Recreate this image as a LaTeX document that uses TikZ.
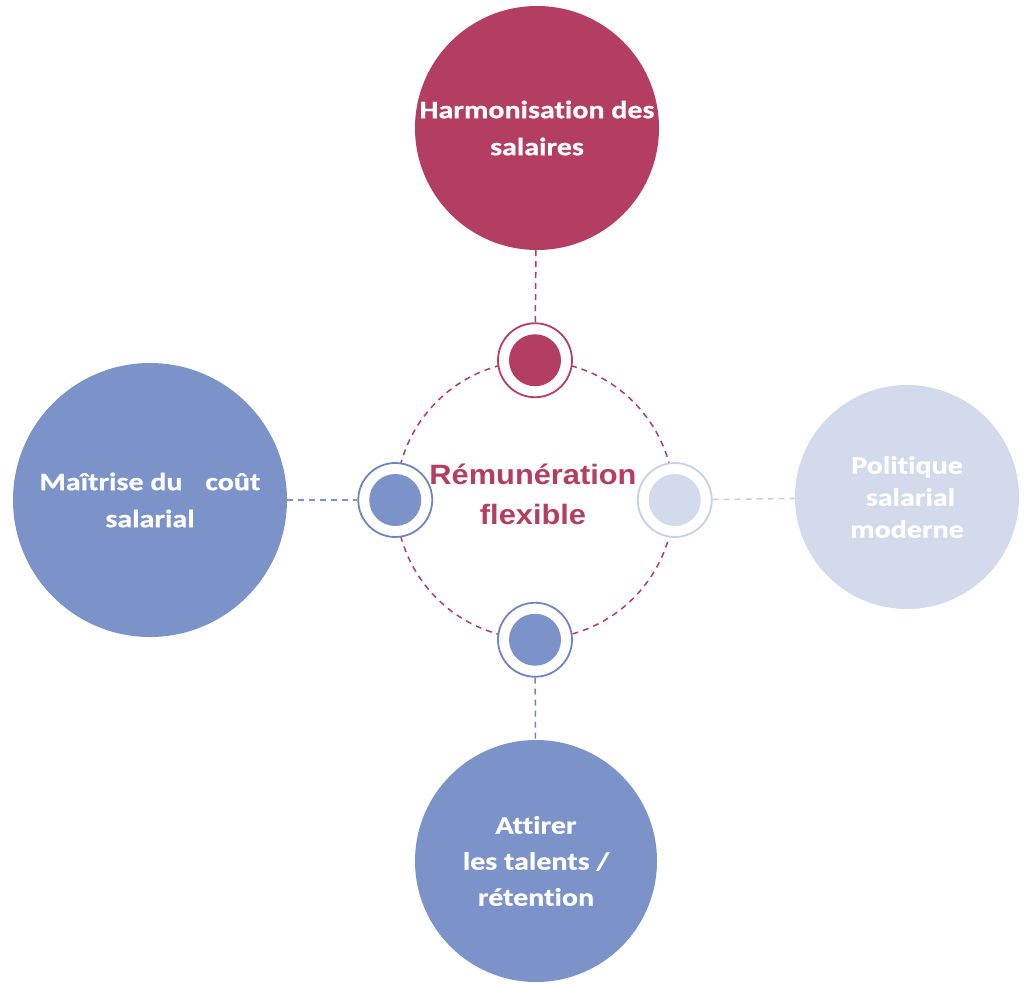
\documentclass[tikz,border=0pt]{standalone}
\usepackage{fontspec}
\newfontfamily\labfont[FakeStretch=1.2,Ligatures=NoCommon,FakeBold=0.6]{Carlito}
\newfontfamily\ctrfont[FakeStretch=1.1]{Liberation Sans}
\definecolor{crim}{RGB}{180,62,98}
\definecolor{bluec}{RGB}{124,147,201}
\definecolor{bluer}{RGB}{112,133,192}
\definecolor{pale}{RGB}{211,218,236}
\definecolor{paler}{RGB}{200,208,230}
\begin{document}
\begin{tikzpicture}[x=1pt,y=-1pt,
  big/.style={circle, inner sep=0pt, align=center, text=white,
    font=\labfont\bfseries\fontsize{25pt}{37pt}\selectfont},
  conn/.style={line width=1.5pt, dash pattern=on 6pt off 5pt},
  ringsm/.style={circle, draw, fill=white, line width=1.8pt, minimum size=74pt, inner sep=0pt},
  dotsm/.style={circle, minimum size=52pt, inner sep=0pt}]
\useasboundingbox (0,0) rectangle (1024,984);
\fill[white] (0,0) rectangle (1024,984);
% big circles
\node[big, fill=crim, minimum size=244pt] (harm) at (537,128) {Harmonisation des\\salaires};
\node[big, fill=bluec, minimum size=274pt] (cout) at (150,500) {Maîtrise du\hspace{16pt} coût\\salarial};
\node[big, fill=pale, minimum size=224pt, font=\labfont\bfseries\fontsize{25pt}{32pt}\selectfont] (poli) at (907,497) {Politique\\\ salarial\\moderne};
\node[big, fill=bluec, minimum size=242pt, font=\labfont\bfseries\fontsize{25pt}{36pt}\selectfont] (attr) at (536,861) {Attirer\\les talents /\\rétention};
% central dashed ring
\node[circle, draw=crim, conn, minimum size=278pt, inner sep=0pt] (ring) at (535,500) {};
% small rings
\node[ringsm, draw=crim] (st) at (ring.north) {};
\node[dotsm, fill=crim] (sti) at (ring.north) {};
\node[ringsm, draw=bluer] (sl) at (ring.west) {};
\node[dotsm, fill=bluec] (sli) at (ring.west) {};
\node[ringsm, draw=paler] (sr) at (ring.east) {};
\node[dotsm, fill=pale] (sri) at (ring.east) {};
\node[ringsm, draw=bluer] (sb) at (ring.south) {};
\node[dotsm, fill=bluec] (sbi) at (ring.south) {};
% connectors
\draw[conn, crim] (harm) -- (st);
\draw[conn, bluec] (cout) -- (sl);
\draw[conn, paler] (sr) -- (poli);
\draw[conn, bluer] (sb) -- (attr);
% title
\node[text=crim, align=center, font=\ctrfont\bfseries\fontsize{28pt}{40pt}\selectfont] (title) at (533,494) {Rémunération\\flexible};
\end{tikzpicture}
\end{document}
